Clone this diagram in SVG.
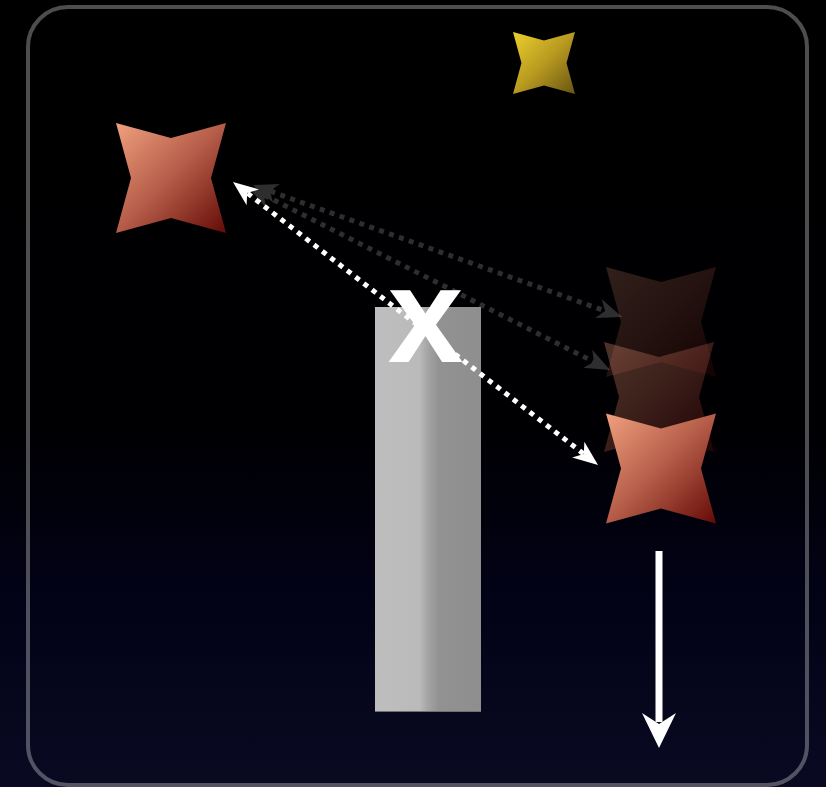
<svg xmlns="http://www.w3.org/2000/svg" width="826" height="787" viewBox="0 0 826 787">
  <defs>
    <linearGradient id="bg" x1="0" y1="0" x2="0" y2="1">
      <stop offset="0" stop-color="#000000"/>
      <stop offset="0.55" stop-color="#000003"/>
      <stop offset="0.75" stop-color="#020216"/>
      <stop offset="1" stop-color="#090922"/>
    </linearGradient>
    <linearGradient id="coral" x1="0" y1="0" x2="1" y2="1">
      <stop offset="0" stop-color="#f0a07e"/>
      <stop offset="0.5" stop-color="#b45c48"/>
      <stop offset="1" stop-color="#640a06"/>
    </linearGradient>
    <linearGradient id="gold" x1="0" y1="0" x2="1" y2="1">
      <stop offset="0" stop-color="#ecd02c"/>
      <stop offset="0.5" stop-color="#b89a20"/>
      <stop offset="1" stop-color="#665412"/>
    </linearGradient>
    <linearGradient id="pillar" x1="0" y1="0" x2="1" y2="0">
      <stop offset="0" stop-color="#bebebe"/>
      <stop offset="0.42" stop-color="#bababa"/>
      <stop offset="0.5" stop-color="#a4a4a4"/>
      <stop offset="0.6" stop-color="#929292"/>
      <stop offset="1" stop-color="#8e8e8e"/>
    </linearGradient>
    <path id="star" d="M-55,-55 L0,-40 L55,-55 L40,0 L55,55 L0,40 L-55,55 L-40,0 Z"/>
    <marker id="head" markerUnits="userSpaceOnUse" orient="auto-start-reverse" refX="0" refY="0" markerWidth="40" markerHeight="40" overflow="visible">
      <path d="M8,0 L-17,-10 L-10,0 L-17,10 Z" fill="#ffffff"/>
    </marker>
  </defs>
  <style>
    .dots { fill: none; stroke: #ffffff; stroke-width: 5; stroke-dasharray: 5 5.5; marker-start: url(#head); marker-end: url(#head); }
  </style>

  <rect x="0" y="0" width="826" height="787" fill="url(#bg)"/>
  <rect id="frame" x="28" y="7" width="779" height="778" rx="40" ry="40" fill="none" stroke="#ffffff" stroke-opacity="0.3" stroke-width="4"/>

  <g id="pillar-node">
    <rect x="375" y="307" width="106" height="405" fill="url(#pillar)"/>
    <line x1="375" y1="711.5" x2="481" y2="711.5" stroke="#707070" stroke-width="1"/>
  </g>

  <g id="ghost-star-1" opacity="0.2">
    <use href="#star" transform="translate(661,322)" fill="url(#coral)"/>
  </g>
  <g id="ghost-star-2" opacity="0.32">
    <use href="#star" transform="translate(659,397)" fill="url(#coral)"/>
  </g>
  <g id="star-moving">
    <use href="#star" transform="translate(661,468.5)" fill="url(#coral)"/>
  </g>
  <g id="star-left">
    <use href="#star" transform="translate(171,178)" fill="url(#coral)"/>
  </g>
  <g id="star-gold">
    <use href="#star" transform="translate(544,63) scale(0.5636)" fill="url(#gold)"/>
  </g>

  <g id="connectors">
    <g opacity="0.18">
      <line class="dots" x1="260.5" y1="187.7" x2="614.5" y2="314.3"/>
      <line class="dots" x1="255.1" y1="190.6" x2="602.9" y2="366.4"/>
    </g>
    <line class="dots" x1="239.3" y1="186.9" x2="591.7" y2="460.1"/>
    <g id="down-arrow">
      <line x1="659" y1="551" x2="659" y2="722" stroke="#ffffff" stroke-width="7"/>
      <path d="M659,748 L642,713 L659,724 L676,713 Z" fill="#ffffff"/>
    </g>
  </g>

  <g id="label-x">
    <text x="425.5" y="362" font-family="Liberation Sans, Arial, sans-serif" font-weight="bold" font-size="136" fill="#ffffff" text-anchor="middle">x</text>
  </g>
</svg>
